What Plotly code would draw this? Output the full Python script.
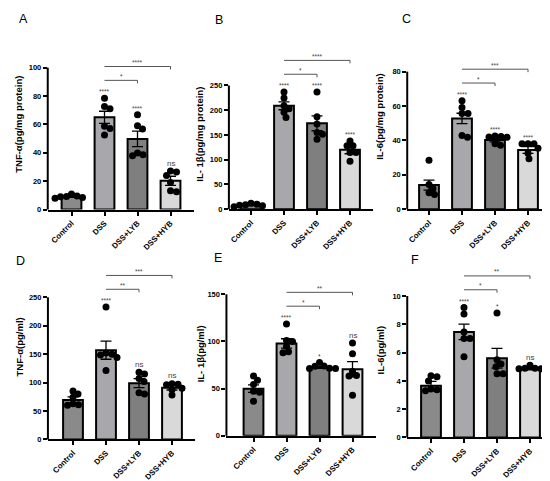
import plotly.graph_objects as go

W, H = 550, 481
FONT = "Liberation Sans, Arial, sans-serif"

groups = ["Control", "DSS", "DSS+LYB", "DSS+HYB"]
bar_colors = ["#8a8a8a", "#a8a8ac", "#7f7f7f", "#d9d9d9"]

# A  TNF-α, tissue
a_title = "TNF-α(pg/mg protein)"
a_ticks = [0, 20, 40, 60, 80, 100]
a_mean = [9.2, 65.0, 49.8, 20.3]
a_sem = [0.5, 4.3, 5.5, 3.2]
a_pts = [[11.0, 9.5, 9.2, 9.0, 8.5, 8.0],
         [78.5, 72.7, 71.0, 58.8, 57.1, 52.6],
         [66.9, 59.0, 56.7, 39.8, 38.7, 38.0],
         [27.1, 26.4, 24.1, 19.0, 13.2, 12.5]]
a_sig = ["", "****", "****", "ns"]
a_cmp = [(1, 2, "*"), (1, 3, "****")]

# B  IL-1β, tissue
b_title = "IL- 1β(pg/mg protein)"
b_ticks = [0, 50, 100, 150, 200, 250]
b_mean = [8.5, 209.0, 173.5, 120.0]
b_sem = [1.5, 8.0, 15.0, 8.0]
b_pts = [[12, 10, 9, 8, 7, 5],
         [236.7, 224.7, 209.0, 203.0, 196.0, 185.3],
         [236.7, 186.7, 172.0, 155.0, 151.3, 141.3],
         [138.0, 128.0, 128.0, 114.7, 114.7, 96.7]]
b_sig = ["", "****", "****", "****"]
b_cmp = [(1, 2, "*"), (1, 3, "****")]

# C  IL-6, tissue
c_title = "IL-6(pg/mg protein)"
c_ticks = [0, 20, 40, 60, 80]
c_mean = [14.0, 52.8, 40.2, 34.4]
c_sem = [2.9, 3.0, 1.0, 2.0]
c_pts = [[28.4, 14.4, 12.0, 9.6, 8.6],
         [63.0, 59.1, 55.7, 55.7, 42.8, 41.8],
         [42.6, 42.2, 42.0, 41.8, 38.0, 37.2],
         [38.0, 38.0, 38.0, 35.5, 32.6, 29.4]]
c_sig = ["", "****", "****", "****"]
c_cmp = [(1, 2, "*"), (1, 3, "***")]

# D  TNF-α, serum
d_title = "TNF-α(pg/ml)"
d_ticks = [0, 50, 100, 150, 200, 250]
d_mean = [69.3, 157.0, 99.0, 91.0]
d_sem = [5.5, 16.0, 8.0, 4.0]
d_pts = [[85.0, 80.0, 74.0, 63.0, 61.0, 60.0],
         [232.7, 151.8, 150.0, 148.4, 144.3, 121.2],
         [118.0, 115.0, 107.0, 102.0, 82.0, 80.0],
         [98.0, 97.0, 96.0, 90.0, 88.0, 78.0]]
d_sig = ["", "****", "ns", "ns"]
d_cmp = [(1, 2, "**"), (1, 3, "***")]

# E  IL-1β, serum
e_title = "IL- 1β(pg/ml)"
e_ticks = [0, 50, 100, 150]
e_mean = [50.0, 97.9, 72.4, 70.6]
e_sem = [4.0, 5.0, 1.0, 8.0]
e_pts = [[63.3, 59.0, 54.5, 47.2, 46.2, 36.7],
         [118.5, 101.0, 100.0, 94.8, 89.2, 88.0],
         [77.6, 74.1, 73.8, 71.7, 71.3, 71.3],
         [98.3, 87.0, 68.2, 64.0, 63.3, 43.0]]
e_sig = ["", "****", "*", "ns"]
e_cmp = [(1, 2, "*"), (1, 3, "**")]

# F  IL-6, serum
f_title = "IL-6(pg/ml)"
f_ticks = [0, 2, 4, 6, 8, 10]
f_mean = [3.66, 7.46, 5.6, 4.85]
f_sem = [0.3, 0.55, 0.7, 0.07]
f_pts = [[4.36, 4.29, 4.0, 3.43, 3.38, 3.3],
         [9.18, 8.72, 7.46, 7.0, 7.0, 5.71],
         [8.8, 5.5, 5.2, 5.0, 4.5, 4.5],
         [5.1, 4.9, 4.9, 4.85, 4.85, 4.8]]
f_sig = ["", "****", "*", "ns"]
f_cmp = [(1, 2, "*"), (1, 3, "**")]

series = [
    ("A", a_title, a_ticks, a_mean, a_sem, a_pts, a_sig, a_cmp),
    ("B", b_title, b_ticks, b_mean, b_sem, b_pts, b_sig, b_cmp),
    ("C", c_title, c_ticks, c_mean, c_sem, c_pts, c_sig, c_cmp),
    ("D", d_title, d_ticks, d_mean, d_sem, d_pts, d_sig, d_cmp),
    ("E", e_title, e_ticks, e_mean, e_sem, e_pts, e_sig, e_cmp),
    ("F", f_title, f_ticks, f_mean, f_sem, f_pts, f_sig, f_cmp),
]

# pixel layout of each panel: first bar centre, left pad (in bar slots),
# y px of 0, y px of top tick, top of plot area, title x/y, letter x/y
geom = [
    dict(c0=63.5, lo=0.72, y0=203.7, yt=60.3, top=40, tx=11, ty=118, lx=15, ly=11),
    dict(c0=243.0, lo=0.67, y0=203.3, yt=78.3, top=40, tx=192, ty=128, lx=211, ly=12),
    dict(c0=421.0, lo=0.66, y0=203.3, yt=64.3, top=40, tx=372, ty=110, lx=398, ly=11),
    dict(c0=65.0, lo=0.76, y0=436.0, yt=292.3, top=250, tx=11, ty=343, lx=12, ly=256),
    dict(c0=245.5, lo=0.82, y0=432.3, yt=289.3, top=250, tx=192, ty=350, lx=210, ly=253),
    dict(c0=423.0, lo=0.72, y0=434.0, yt=291.0, top=250, tx=372, ty=346, lx=407, ly=255),
]
SLOT = 33.0      # px between bar centres
HI = 3.7         # right end of x range
DOT = 7          # marker size px


def swarm(vals, ppu_y, ppu_x, d):
    """simple beeswarm: nearest free horizontal offset for each point"""
    placed = []
    offs = []
    for v in vals:
        y = v * ppu_y
        x = 0.0
        for step in range(0, 80):
            found = False
            for s in ([0] if step == 0 else [1, -1]):
                cand = s * step * 0.5
                if all((cand - px) ** 2 + (y - py) ** 2 >= d * d for px, py in placed):
                    x = cand
                    found = True
                    break
            if found:
                break
        placed.append((x, y))
        offs.append(x / ppu_x)
    return offs


fig = go.Figure()
shapes = []
annotations = []
layout_axes = {}

for i, (letter, title, ticks, mean, sem, pts, sig, cmp) in enumerate(series):
    g = geom[i]
    n = "" if i == 0 else str(i + 1)
    xa, ya = "x" + n, "y" + n
    top_val = ticks[-1]
    ppu = (g["y0"] - g["yt"]) / top_val
    ymax = (g["y0"] - g["top"]) / ppu
    xd0 = (g["c0"] - g["lo"] * SLOT) / W
    xd1 = (g["c0"] + HI * SLOT) / W
    yd0 = 1 - g["y0"] / H
    yd1 = 1 - g["top"] / H

    layout_axes["xaxis" + n] = dict(
        domain=[xd0, xd1], anchor=ya, range=[-g["lo"], HI],
        tickvals=[0, 1, 2, 3], ticktext=groups, tickangle=-45,
        ticks="outside", ticklen=4, tickwidth=1.5, tickcolor="black",
        showline=True, linecolor="black", linewidth=2,
        showgrid=False, zeroline=False,
        tickfont=dict(family=FONT, size=7.9, color="black", weight="bold"),
    )
    layout_axes["yaxis" + n] = dict(
        domain=[yd0, yd1], anchor=xa, range=[0, ymax],
        tickvals=ticks, ticks="outside", ticklen=4, tickwidth=1.5,
        tickcolor="black", showline=False, showgrid=False, zeroline=False,
        tickfont=dict(family=FONT, size=7.5, color="black", weight="bold"),
    )

    fig.add_trace(go.Bar(
        x=[0, 1, 2, 3], y=mean, width=0.6, xaxis=xa, yaxis=ya,
        marker=dict(color=bar_colors, line=dict(color="black", width=2)),
        error_y=dict(type="data", array=sem, color="black", thickness=1.3, width=5.5),
        showlegend=False,
    ))
    for k, vals in enumerate(pts):
        offs = swarm(vals, ppu, SLOT, DOT * 0.8)
        fig.add_trace(go.Scatter(
            x=[k + o for o in offs], y=vals, mode="markers", xaxis=xa, yaxis=ya,
            marker=dict(color="black", size=DOT), showlegend=False,
        ))

    # y axis line only up to the last tick
    shapes.append(dict(type="line", xref="paper", yref="paper",
                       x0=xd0, x1=xd0, y0=yd0, y1=1 - g["yt"] / H,
                       line=dict(color="black", width=2)))

    # significance marks above each group
    label_px = []
    for k in range(4):
        hi_px = max(max(pts[k]), mean[k] + sem[k]) * ppu
        if sig[k]:
            lp = hi_px + 8
            label_px.append(lp)
            annotations.append(dict(
                x=k, y=lp / ppu, xref=xa, yref=ya, text=sig[k], showarrow=False,
                font=dict(family=FONT, size=8 if sig[k] == "ns" else 6.5, color="#444"),
                xanchor="center", yanchor="middle",
                yshift=0 if sig[k] == "ns" else -1.5,
            ))
        else:
            label_px.append(hi_px)

    # comparison brackets
    base = None
    for j, (g1, g2, txt) in enumerate(cmp):
        if base is None:
            base = max(label_px[g1:g2 + 1]) + 10
        lvl = (base + 14 * j) / ppu
        hook = 3 / ppu
        shapes.append(dict(
            type="path", xref=xa, yref=ya,
            path=f"M {g1},{lvl} L {g2},{lvl} L {g2},{lvl - hook}",
            line=dict(color="#555", width=1),
        ))
        annotations.append(dict(
            x=(g1 + g2) / 2, y=lvl + 5 / ppu, xref=xa, yref=ya, text=txt,
            showarrow=False, xanchor="center", yanchor="middle", yshift=-1,
            font=dict(family=FONT, size=6.5, color="#444"),
        ))

    # y title and panel letter
    annotations.append(dict(
        x=g["tx"] / W, y=1 - g["ty"] / H, xref="paper", yref="paper",
        text=title, textangle=-90, showarrow=False,
        xanchor="center", yanchor="middle",
        font=dict(family=FONT, size=9.5, color="black", weight="bold"),
    ))
    annotations.append(dict(
        x=g["lx"] / W, y=1 - g["ly"] / H, xref="paper", yref="paper",
        text=letter, showarrow=False, xanchor="center", yanchor="middle",
        font=dict(family=FONT, size=12.5, color="black"),
    ))

fig.update_layout(
    width=W, height=H,
    margin=dict(l=0, r=0, t=0, b=0),
    paper_bgcolor="white", plot_bgcolor="white",
    shapes=shapes, annotations=annotations,
    font=dict(family=FONT),
    **layout_axes,
)

fig.write_html("out.html")
